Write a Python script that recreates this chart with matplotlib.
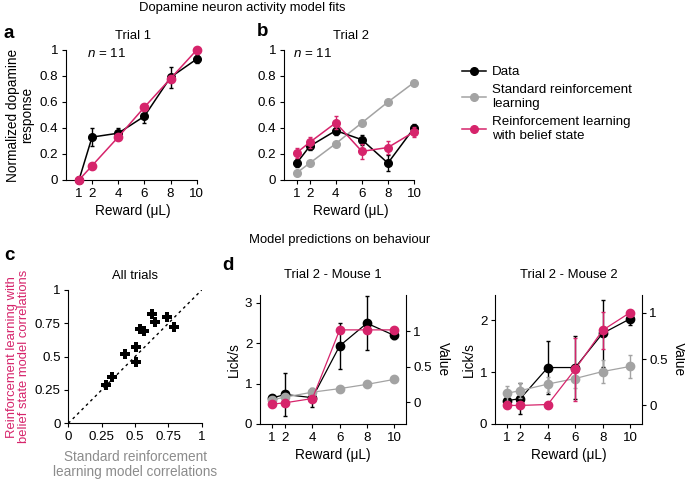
import matplotlib
matplotlib.use("Agg")
import matplotlib.pyplot as plt
from matplotlib.lines import Line2D

plt.rcParams['font.family'] = ['Liberation Sans', 'DejaVu Sans']
plt.rcParams['font.size'] = 9.6
plt.rcParams['xtick.labelsize'] = 9.6
plt.rcParams['ytick.labelsize'] = 9.6
plt.rcParams['axes.labelsize'] = 9.8
plt.rcParams['mathtext.fontset'] = 'custom'
plt.rcParams['mathtext.it'] = 'Liberation Sans:italic'
plt.rcParams['mathtext.rm'] = 'Liberation Sans'
plt.rcParams['axes.linewidth'] = 0.8
plt.rcParams['xtick.major.size'] = 3
plt.rcParams['ytick.major.size'] = 3
plt.rcParams['xtick.major.width'] = 0.8
plt.rcParams['ytick.major.width'] = 0.8

# ---------------- data ----------------
reward = [1, 2, 4, 6, 8, 10]
reward_ticks = [1, 2, 4, 6, 8, 10]

a_data = [0.0, 0.33, 0.36, 0.49, 0.79, 0.93]
a_data_err = [0.0, 0.07, 0.04, 0.05, 0.08, 0.03]
a_belief = [0.0, 0.11, 0.33, 0.56, 0.78, 1.0]

b_data = [0.13, 0.26, 0.38, 0.31, 0.13, 0.40]
b_data_err = [0.03, 0.03, 0.03, 0.04, 0.06, 0.03]
b_standard = [0.055, 0.13, 0.28, 0.44, 0.60, 0.75]
b_belief = [0.21, 0.29, 0.44, 0.22, 0.25, 0.37]
b_belief_err = [0.04, 0.04, 0.05, 0.06, 0.05, 0.04]

c_standard = [0.28, 0.325, 0.425, 0.51, 0.51, 0.54, 0.57, 0.625, 0.65, 0.74, 0.79]
c_belief = [0.29, 0.345, 0.52, 0.57, 0.46, 0.71, 0.69, 0.82, 0.76, 0.80, 0.72]

d1_lick = [0.64, 0.73, 0.65, 1.93, 2.49, 2.19]
d1_lick_err = [0.04, 0.54, 0.24, 0.57, 0.67, 0.10]
d1_standard = [0.03, 0.07, 0.14, 0.19, 0.25, 0.32]
d1_belief = [-0.03, -0.01, 0.05, 1.02, 1.02, 1.02]

d2_lick = [0.45, 0.49, 1.09, 1.09, 1.75, 2.03]
d2_lick_err = [0.05, 0.30, 0.52, 0.60, 0.65, 0.12]
d2_standard = [0.13, 0.16, 0.23, 0.29, 0.365, 0.42]
d2_standard_err = [0.08, 0.08, 0.08, 0.10, 0.12, 0.12]
d2_belief = [0.0, 0.0, 0.01, 0.39, 0.81, 1.0]
d2_belief_err = [0.01, 0.02, 0.01, 0.34, 0.20, 0.01]

PINK = '#d6246b'
GREY = '#a3a3a3'
BLACK = '#000000'

W, H = 685, 479
fig = plt.figure(figsize=(W / 100, H / 100), dpi=100)


def add_ax(left, top, right, bottom):
    return fig.add_axes([left / W, 1 - bottom / H, (right - left) / W, (bottom - top) / H])


def style(ax):
    ax.spines['top'].set_visible(False)
    ax.spines['right'].set_visible(False)
    ax.tick_params(direction='out', pad=2.5)


def pl(ax, x, y, color, err=None, ms=5.5, lw=1.1, z=3):
    if err is None:
        ax.plot(x, y, '-o', color=color, ms=ms, lw=lw, zorder=z, clip_on=False)
    else:
        ax.errorbar(x, y, yerr=err, fmt='-o', color=color, ms=ms, lw=lw,
                    elinewidth=1.0, capsize=1.5, capthick=1.0, zorder=z, clip_on=False)

# ---------------- panel a ----------------
axa = add_ax(65.9, 50, 200.6, 180)
style(axa)
axa.set_xlim(0, 10.3)
axa.set_ylim(0, 1)
axa.spines['bottom'].set_bounds(0, 10)
pl(axa, reward, a_data, BLACK, a_data_err, z=3)
pl(axa, reward, a_belief, PINK, ms=6, z=4)
axa.set_xticks(reward_ticks)
axa.set_yticks([0, 0.2, 0.4, 0.6, 0.8, 1.0])
axa.set_yticklabels(['0', '0.2', '0.4', '0.6', '0.8', '1'])
axa.set_xlabel('Reward (μL)', labelpad=3)
axa.set_ylabel('Normalized dopamine\nresponse', labelpad=4, linespacing=1.0)
axa.set_title('Trial 1', fontsize=9.4, pad=8)
axa.text(0.16, 0.97, r'$n$ = 11', transform=axa.transAxes, fontsize=9.6, va='center')

# ---------------- panel b ----------------
axb = add_ax(283.7, 50, 417.9, 180)
style(axb)
axb.set_xlim(0, 10.3)
axb.set_ylim(0, 1)
axb.spines['bottom'].set_bounds(0, 10)
pl(axb, reward, b_standard, GREY, z=2)
pl(axb, reward, b_data, BLACK, b_data_err, z=3)
pl(axb, reward, b_belief, PINK, b_belief_err, z=4)
axb.set_xticks(reward_ticks)
axb.set_yticks([0, 0.2, 0.4, 0.6, 0.8, 1.0])
axb.set_yticklabels(['0', '0.2', '0.4', '0.6', '0.8', '1'])
axb.set_xlabel('Reward (μL)', labelpad=3)
axb.set_title('Trial 2', fontsize=9.4, pad=8)
axb.text(0.07, 0.97, r'$n$ = 11', transform=axb.transAxes, fontsize=9.6, va='center')

# legend
handles = [
    Line2D([], [], color=BLACK, marker='o', ms=5.5, lw=1.1),
    Line2D([], [], color=GREY, marker='o', ms=5.5, lw=1.1),
    Line2D([], [], color=PINK, marker='o', ms=5.5, lw=1.1),
]
labels = ['Data', 'Standard reinforcement\nlearning', 'Reinforcement learning\nwith belief state']
fig.legend(handles, labels, loc='upper left', bbox_to_anchor=(462 / W, 1 - 66 / H),
           frameon=False, handlelength=1.8, handletextpad=0.45, labelspacing=0.45,
           fontsize=9.6, borderaxespad=0, borderpad=0)

# ---------------- panel c ----------------
axc = add_ax(68.3, 290, 201.7, 423.3)
style(axc)
axc.set_xlim(0, 1)
axc.set_ylim(0, 1)
axc.plot([0, 1], [0, 1], color=BLACK, lw=1.0, ls=(0, (2, 2.5)), zorder=1)
axc.plot(c_standard, c_belief, 'P', color=BLACK, ms=6.5, mew=0, zorder=3, lw=0)
ticks_c = [0, 0.25, 0.5, 0.75, 1]
axc.set_xticks(ticks_c)
axc.set_xticklabels(['0', '0.25', '0.5', '0.75', '1'])
axc.set_yticks(ticks_c)
axc.set_yticklabels(['0', '0.25', '0.5', '0.75', '1'])
axc.set_xlabel('Standard reinforcement\nlearning model correlations', color='#8c8c8c',
               labelpad=5, linespacing=1.1)
axc.set_ylabel('Reinforcement learning with\nbelief state model correlations', color=PINK,
               labelpad=3, linespacing=1.0, fontsize=9.4)
axc.set_title('All trials', fontsize=9.4, pad=8)

# ---------------- panel d ----------------
def d_panel(left, right, lick, lick_err, std, bel, lick_lim, lick_ticks, val_lim,
            title, std_err=None, bel_err=None):
    ax = add_ax(left, 294.5, right, 424)
    ax.spines['top'].set_visible(False)
    ax.spines['right'].set_visible(False)
    ax.tick_params(direction='out', pad=2.5)
    ax.set_xlim(0.15, 10.85)
    ax.set_ylim(*lick_lim)
    ax.set_xticks(reward_ticks)
    ax.set_yticks(lick_ticks)
    pl(ax, reward, lick, BLACK, lick_err, ms=6, lw=0.9)
    ax.set_xlabel('Reward (μL)', labelpad=3)
    ax.set_ylabel('Lick/s', labelpad=3)
    ax.set_title(title, fontsize=9.4, pad=12)
    ax2 = ax.twinx()
    ax2.set_ylim(*val_lim)
    ax2.spines['top'].set_visible(False)
    ax2.spines['left'].set_visible(False)
    ax2.spines['bottom'].set_visible(False)
    ax2.tick_params(direction='out', pad=2.5)
    ax2.set_yticks([0, 0.5, 1])
    ax2.set_yticklabels(['0', '0.5', '1'])
    pl(ax2, reward, std, GREY, std_err, ms=6, lw=0.9, z=2)
    pl(ax2, reward, bel, PINK, bel_err, ms=6, lw=0.9, z=3)
    ax2.set_ylabel('Value', rotation=270, labelpad=13)
    return ax, ax2

d_panel(260, 405.7, d1_lick, d1_lick_err, d1_standard, d1_belief,
        (0, 3.2), [0, 1, 2, 3], (-0.31, 1.52), 'Trial 2 - Mouse 1')
d_panel(495, 641.7, d2_lick, d2_lick_err, d2_standard, d2_belief,
        (0, 2.5), [0, 1, 2], (-0.2, 1.195), 'Trial 2 - Mouse 2',
        std_err=d2_standard_err, bel_err=d2_belief_err)

# ---------------- headings and panel letters ----------------
fig.text(242 / W, 1 - 8 / H, 'Dopamine neuron activity model fits', ha='center', va='center', fontsize=9.4)
fig.text(340 / W, 1 - 240 / H, 'Model predictions on behaviour', ha='center', va='center', fontsize=9.4)
for lbl, x, y in [('a', 4, 33), ('b', 257, 31), ('c', 4, 256), ('d', 222, 266)]:
    fig.text(x / W, 1 - y / H, lbl, fontsize=13.5, fontweight='bold', ha='left', va='center')

fig.savefig('out.png', dpi=100)
